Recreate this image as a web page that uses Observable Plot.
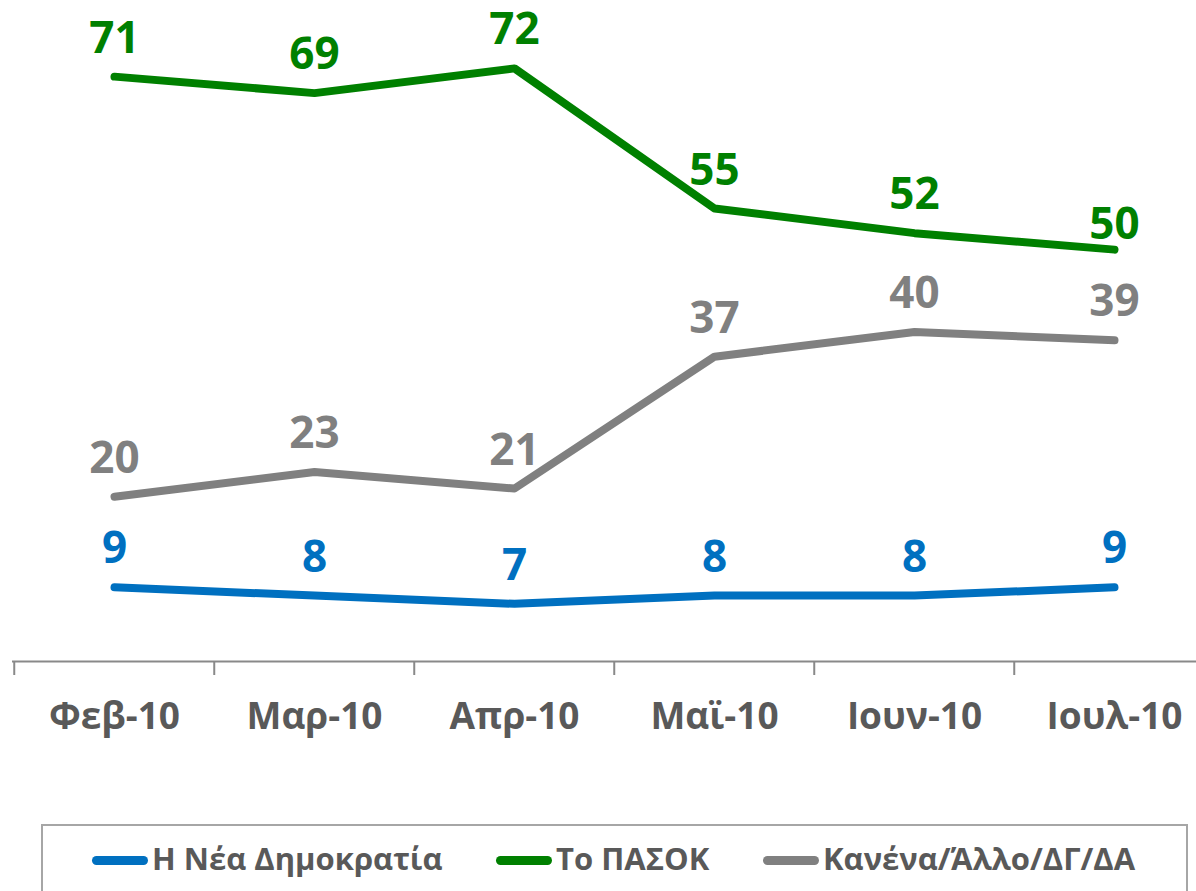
<!DOCTYPE html>
<html><head><meta charset="utf-8">
<script src="https://cdn.jsdelivr.net/npm/d3@7"></script>
<script src="https://cdn.jsdelivr.net/npm/@observablehq/plot@0.6"></script>
<style>
body{margin:0;background:#fff;width:1196px;height:891px;overflow:hidden;position:relative;font-family:"Open Sans",sans-serif;}
#chart{position:absolute;left:0;top:0;}
#legend{position:absolute;left:41px;top:824px;width:1147px;height:100px;border:2px solid #a6a6a6;box-sizing:border-box;}
.sw{position:absolute;height:9px;width:56px;border-radius:5px;}
.lt{position:absolute;font-size:31px;font-weight:700;color:#595959;line-height:1;white-space:nowrap;}
</style></head>
<body>
<div id="chart"></div>
<div id="legendWrap"></div>
<script>
const months = ["Φεβ-10","Μαρ-10","Απρ-10","Μαϊ-10","Ιουν-10","Ιουλ-10"];
const ndValues = [9,8,7,8,8,9];
const pasokValues = [71,69,72,55,52,50];
const otherValues = [20,23,21,37,40,39];
const seriesNames = ["Η Νέα Δημοκρατία","Το ΠΑΣΟΚ","Κανένα/Άλλο/ΔΓ/ΔΑ"];
const seriesColors = ["#0070C0","#008000","#808080"];

const seriesValues = [ndValues, pasokValues, otherValues];
const rows = [];
seriesNames.forEach((s, si) => months.forEach((m, i) => rows.push({series: s, month: m, value: seriesValues[si][i], color: seriesColors[si], last: si === 1 && i === months.length - 1})));

const chart = Plot.plot({
  width: 1196,
  height: 790,
  marginTop: 2,
  marginBottom: 129,
  marginLeft: 12,
  marginRight: 0,
  style: {fontFamily: "Open Sans, sans-serif", overflow: "visible"},
  x: {type: "point", domain: months, range: [12, 1215], padding: 0.5, label: null},
  y: {domain: [0, 80], axis: null},
  marks: [
    Plot.ruleY([0], {stroke: "#898989", strokeWidth: 2}),
    Plot.ruleX(months, {x: d => d, dx: -100.25, stroke: "#898989", strokeWidth: 2, insetTop: 659, insetBottom: -14}),
    Plot.axisX({tickSize: 0, tickPadding: 41, fontSize: 37, fontWeight: 700, fill: "#595959", tickFormat: d => d, label: null}),
    Plot.line(rows, {x: "month", y: "value", z: "series", stroke: "color", strokeWidth: 8, strokeLinecap: "round", strokeLinejoin: "round"}),
    Plot.text(rows.filter(d => !d.last), {x: "month", y: "value", text: d => String(d.value), fill: "color", fontSize: 44, fontWeight: 700, dy: -38}),
    Plot.text(rows.filter(d => d.last), {x: "month", y: "value", text: d => String(d.value), fill: "color", fontSize: 44, fontWeight: 700, dy: -25})
  ]
});
document.getElementById("chart").appendChild(chart);

const lw = document.getElementById("legendWrap");
const box = document.createElement("div");
box.id = "legend";
lw.appendChild(box);
const swLeft = [92, 496, 763];
seriesNames.forEach((s, i) => {
  const sw = document.createElement("div");
  sw.className = "sw";
  sw.style.background = seriesColors[i];
  sw.style.left = swLeft[i] + "px";
  sw.style.top = "856px";
  document.body.appendChild(sw);
  const t = document.createElement("div");
  t.className = "lt";
  t.textContent = s;
  t.style.left = (swLeft[i] + 60) + "px";
  t.style.top = "843px";
  document.body.appendChild(t);
});
</script>
</body></html>
